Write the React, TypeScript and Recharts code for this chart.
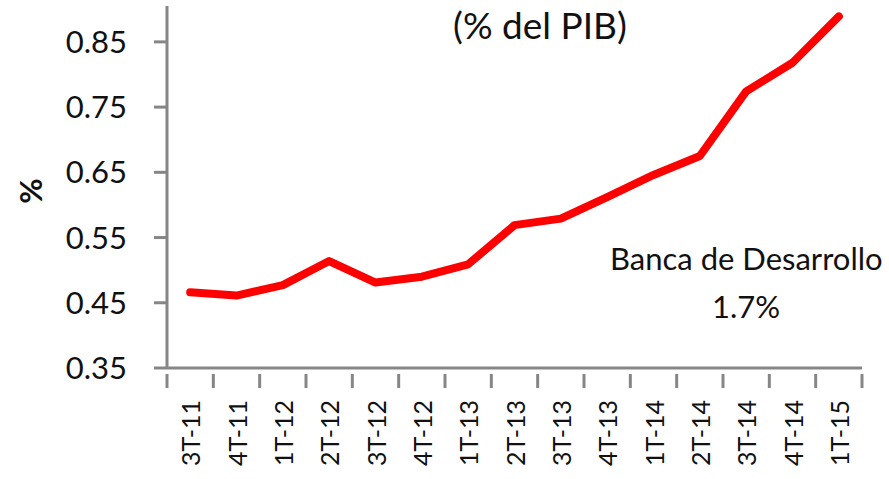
import { LineChart, Line, XAxis, YAxis } from 'recharts';

const quarters = ['3T-11', '4T-11', '1T-12', '2T-12', '3T-12', '4T-12', '1T-13', '2T-13', '3T-13', '4T-13', '1T-14', '2T-14', '3T-14', '4T-14', '1T-15'];
const bancaDesarrollo = [0.466, 0.461, 0.477, 0.514, 0.481, 0.49, 0.509, 0.569, 0.579, 0.612, 0.646, 0.675, 0.774, 0.818, 0.889];
const yTicks = [0.35, 0.45, 0.55, 0.65, 0.75, 0.85];

const data = quarters.map((q, i) => ({ q, v: bancaDesarrollo[i] }));

const W = 889;
const H = 479;
const M = { top: 6, right: 27, left: 0, bottom: 6 };
const Y_W = 167;
const X_H = 105;
const FONT = 'Lato, "Open Sans", sans-serif';
const AXIS = '#868686';
const BAND = (W - M.right - Y_W) / quarters.length;

const XTick = (props: any) => {
  const { x, y, payload, index } = props;
  return (
    <g>
      <line x1={x + BAND / 2} x2={x + BAND / 2} y1={y - 2} y2={y + 12} stroke={AXIS} strokeWidth={3} />
      {index === 0 && <line x1={x - BAND / 2} x2={x - BAND / 2} y1={y - 2} y2={y + 12} stroke={AXIS} strokeWidth={3} />}
      <text
        x={x}
        y={y + 24}
        transform={`rotate(-90, ${x}, ${y + 24})`}
        textAnchor="end"
        dominantBaseline="central"
        fontSize={25}
        fontFamily={FONT}
        fill="#111"
      >
        {payload.value}
      </text>
    </g>
  );
};

export default function App() {
  return (
    <div style={{ position: 'absolute', left: 0, top: 0, width: W, height: H, background: '#fff', fontFamily: FONT }}>
      <LineChart width={W} height={H} data={data} margin={M}>
        <XAxis
          dataKey="q"
          scale="band"
          interval={0}
          height={X_H}
          tickLine={false}
          tick={<XTick />}
          axisLine={{ stroke: AXIS, strokeWidth: 3 }}
        />
        <YAxis
          width={Y_W}
          domain={[0.35, 0.905]}
          ticks={yTicks}
          allowDataOverflow
          tickSize={13}
          tickMargin={27}
          tickFormatter={(v: number) => v.toFixed(2)}
          tick={{ fontSize: 31, fill: '#111', fontFamily: FONT }}
          tickLine={{ stroke: AXIS, strokeWidth: 3 }}
          axisLine={{ stroke: AXIS, strokeWidth: 3 }}
        />
        <Line
          dataKey="v"
          type="linear"
          stroke="#ff0000"
          strokeWidth={8}
          strokeLinecap="round"
          strokeLinejoin="round"
          dot={false}
          isAnimationActive={false}
        />
      </LineChart>
      <div style={{ position: 'absolute', left: 453, top: 6, fontSize: 37, lineHeight: 1, color: '#111', whiteSpace: 'nowrap' }}>(% del PIB)</div>
      <div
        style={{
          position: 'absolute',
          left: 30,
          top: 191,
          transform: 'translate(-50%, -50%) rotate(-90deg)',
          fontSize: 31,
          lineHeight: 1,
          fontWeight: 'bold',
          color: '#111',
        }}
      >
        %
      </div>
      <div style={{ position: 'absolute', left: 610, top: 243, fontSize: 31, lineHeight: 1, color: '#111', whiteSpace: 'nowrap' }}>Banca de Desarrollo</div>
      <div style={{ position: 'absolute', left: 746, top: 291, transform: 'translateX(-50%)', fontSize: 31, lineHeight: 1, color: '#111' }}>1.7%</div>
    </div>
  );
}
